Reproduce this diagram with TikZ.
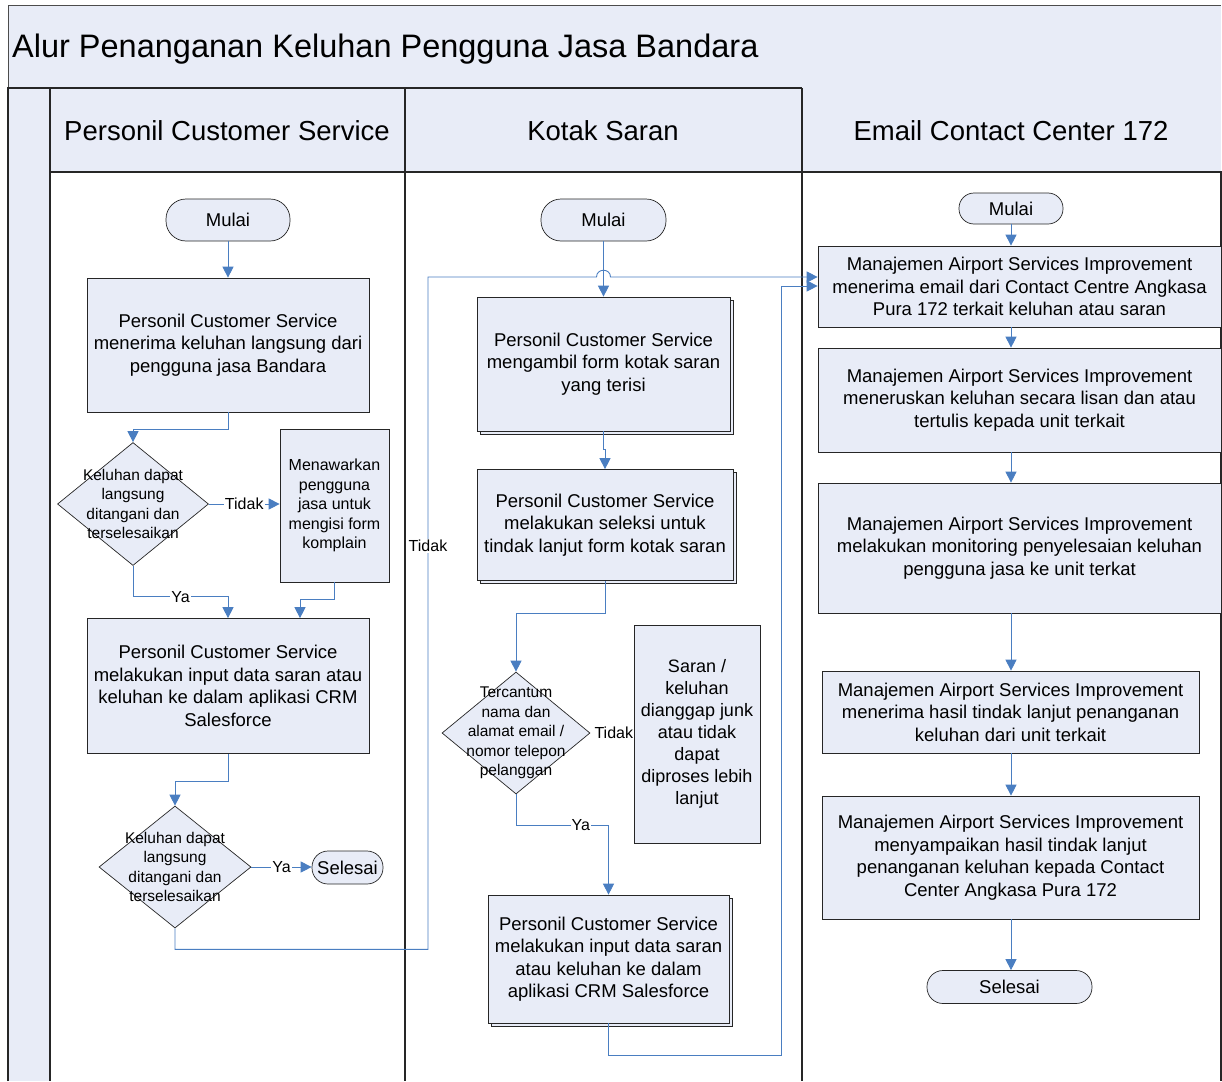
\documentclass[tikz,border=0pt]{standalone}
\usepackage{fontspec}
\setmainfont{Liberation Sans}
\usepackage{tikz}
\usetikzlibrary{arrows.meta,positioning,calc,shapes.geometric,shadows}
\pgfdeclarelayer{bg}
\pgfsetlayers{bg,main}
\definecolor{lanefill}{RGB}{232,236,247}
\definecolor{flowblue}{RGB}{74,126,193}

\begin{document}
\begin{tikzpicture}[x=1pt,y=-1pt,
    box/.style={draw=black!85,fill=lanefill,line width=0.7pt,align=center,inner sep=0pt,
      font=\fontsize{18.5}{22.5}\selectfont},
    boxsh/.style={box,copy shadow={shadow xshift=3pt,shadow yshift=-3pt,draw=black!85,fill=lanefill,line width=0.7pt}},
    term/.style={box,rounded corners=#1},
    dec/.style={diamond,draw=black!85,fill=lanefill,line width=0.7pt,inner sep=0pt},
    dectext/.style={align=center,inner sep=0pt,font=\fontsize{15.5}{19.5}\selectfont},
    flow/.style={draw=flowblue,line width=0.9pt,-{Triangle[length=11pt,width=11pt]}},
    lbl/.style={fill=white,inner sep=1pt,font=\fontsize{16}{18}\selectfont},
    lane/.style={draw=black!85,line width=1.5pt}]
    \useasboundingbox (0,0) rectangle (1222,1081);

    \node [anchor=base west,inner sep=0pt,font=\fontsize{32.5}{38}\selectfont] (judul) at (12,58) {Alur Penanganan Keluhan Pengguna Jasa Bandara};
    \node [anchor=base,inner sep=0pt,font=\fontsize{27.5}{33}\selectfont] (head1) at (227,140) {Personil Customer Service};
    \node [anchor=base,inner sep=0pt,font=\fontsize{27.5}{33}\selectfont] (head2) at (603,140) {Kotak Saran};
    \node [anchor=base,inner sep=0pt,font=\fontsize{27.5}{33}\selectfont] (head3) at (1011,140) {Email Contact Center 172};

    % Personil Customer Service
    \node [term=20pt,minimum width=124pt,minimum height=42pt] (mulai1) at (228,220) {Mulai};
    \node [box,minimum width=282pt,minimum height=134pt] (terima) at (228,345) {Personil Customer Service\\menerima keluhan langsung dari\\pengguna jasa Bandara};
    \node [dec,minimum width=151pt,minimum height=123pt] (cek1) at (133,504) {};
    \node [dectext] (cek1t) at (cek1) {Keluhan dapat\\langsung\\ditangani dan\\terselesaikan};
    \node [box,minimum width=109pt,minimum height=153pt,font=\fontsize{16}{19.5}\selectfont] (tawar) at (334.5,505.5) {Menawarkan\\pengguna\\jasa untuk\\mengisi form\\komplain};
    \node [box,minimum width=282pt,minimum height=135pt] (input1) at (228,686) {Personil Customer Service\\melakukan input data saran atau\\keluhan ke dalam aplikasi CRM\\Salesforce};
    \node [dec,minimum width=152pt,minimum height=122pt] (cek2) at (175,867) {};
    \node [dectext] (cek2t) at (cek2) {Keluhan dapat\\langsung\\ditangani dan\\terselesaikan};
    \node [term=16pt,minimum width=71pt,minimum height=33pt] (selesai1) at (347.5,867.5) {Selesai};

    % Kotak Saran
    \node [term=20pt,minimum width=125pt,minimum height=42pt] (mulai2) at (603.5,220) {Mulai};
    \node [boxsh,minimum width=253pt,minimum height=134pt] (ambil) at (603.5,364) {Personil Customer Service\\mengambil form kotak saran\\yang terisi};
    \node [boxsh,minimum width=256pt,minimum height=111pt] (seleksi) at (605,525) {Personil Customer Service\\melakukan seleksi untuk\\tindak lanjut form kotak saran};
    \node [dec,minimum width=148pt,minimum height=122pt] (cek3) at (516,733) {};
    \node [dectext] (cek3t) at (cek3) {Tercantum\\nama dan\\alamat email /\\nomor telepon\\pelanggan};
    \node [box,minimum width=126pt,minimum height=218pt,font=\fontsize{18}{22}\selectfont] (junk) at (697,734) {Saran /\\keluhan\\dianggap junk\\atau tidak\\dapat\\diproses lebih\\lanjut};
    \node [lbl,fill=none,anchor=west,inner sep=0pt] (tdk3) at ($(cek3.east)+(4,0)$) {Tidak};
    \node [boxsh,minimum width=241pt,minimum height=128pt] (input2) at (608.5,959) {Personil Customer Service\\melakukan input data saran\\atau keluhan ke dalam\\aplikasi CRM Salesforce};

    % Email Contact Center 172
    \node [term=15pt,minimum width=104pt,minimum height=31pt] (mulai3) at (1011,208.5) {Mulai};
    \node [box,minimum width=403pt,minimum height=81pt] (email1) at (1019.5,286.5) {Manajemen Airport Services Improvement\\menerima email dari Contact Centre Angkasa\\Pura 172 terkait keluhan atau saran};
    \node [box,minimum width=403pt,minimum height=104pt] (email2) at (1019.5,400) {Manajemen Airport Services Improvement\\meneruskan keluhan secara lisan dan atau\\tertulis kepada unit terkait};
    \node [box,minimum width=403pt,minimum height=130pt] (email3) at (1019.5,548) {Manajemen Airport Services Improvement\\melakukan monitoring penyelesaian keluhan\\pengguna jasa ke unit terkat};
    \node [box,minimum width=377pt,minimum height=82pt] (email4) at (1010.5,712) {Manajemen Airport Services Improvement\\menerima hasil tindak lanjut penanganan\\keluhan dari unit terkait};
    \node [box,minimum width=377pt,minimum height=123pt] (email5) at (1010.5,857.5) {Manajemen Airport Services Improvement\\menyampaikan hasil tindak lanjut\\penanganan keluhan kepada Contact\\Center Angkasa Pura 172};
    \node [term=16pt,minimum width=165pt,minimum height=33pt] (selesai3) at (1009.5,987) {Selesai};

    \coordinate (loop1) at (428,277);
    \coordinate (hopL) at (596.5,277);
    \coordinate (hopR) at (610.5,277);
    \coordinate (back2) at (781,286);

    \draw[flow] (mulai1) -- (terima);
    \draw[flow] (terima.south) -- ++(0,17) -| (cek1.north);
    \draw[flow] (cek1.east) -- node[lbl]{Tidak} (cek1.east -| tawar.west);
    \draw[flow] (cek1.south) -- ++(0,31) -| node[lbl,pos=0.25]{Ya} (input1.north);
    \draw[flow] (tawar.south) -- ++(0,17) -| ($(input1.north)+(72,0)$);
    \draw[flow] (input1.south) -- ++(0,28) -| (cek2.north);
    \draw[flow] (cek2.east) -- node[lbl]{Ya} (cek2.east -| selesai1.west);
    \draw[flow] (cek2.south) -- ++(0,21) -| node[lbl,pos=0.8]{Tidak} (loop1) -- (hopL)
        .. controls +(0,-9) and +(0,-9) .. (hopR) -- (hopR -| email1.west);

    \draw[flow] (mulai2) -- (ambil);
    \draw[flow] (ambil.south) -- ++(0,18) -| (seleksi.north);
    \draw[flow] (seleksi.south) -- ++(0,33) -| (cek3.north);
    \draw[flow] (cek3.south) -- ++(0,31) -| node[lbl,pos=0.35]{Ya} (input2.north);
    \draw[flow] (input2.south) -- ++(0,32) -| (back2) -- (back2 -| email1.west);

    \draw[flow] (mulai3) -- (mulai3 |- email1.north);
    \draw[flow] (mulai3 |- email1.south) -- (mulai3 |- email2.north);
    \draw[flow] (mulai3 |- email2.south) -- (mulai3 |- email3.north);
    \draw[flow] (mulai3 |- email3.south) -- (mulai3 |- email4.north);
    \draw[flow] (mulai3 |- email4.south) -- (mulai3 |- email5.north);
    \draw[flow] (mulai3 |- email5.south) -- (mulai3 |- selesai3.north);

    \begin{pgfonlayer}{bg}    % swimlanes
        \fill[lanefill] (8,5) rectangle (1221,172);
        \fill[lanefill] (8,88) rectangle (50,1081);
        \draw[draw=black!70,line width=0.8pt] (8,88) -- (8,5) -- (1221,5);
        \draw[lane] (8,1081) -- (8,88) -- (802,88);
        \draw[lane] (50,88) -- (50,1081) (405,88) -- (405,1081) (802,88) -- (802,1081);
        \draw[lane,line width=1.1pt] (50,172) -- (1221,172) -- (1221,1081);
    \end{pgfonlayer}
\end{tikzpicture}
\end{document}
